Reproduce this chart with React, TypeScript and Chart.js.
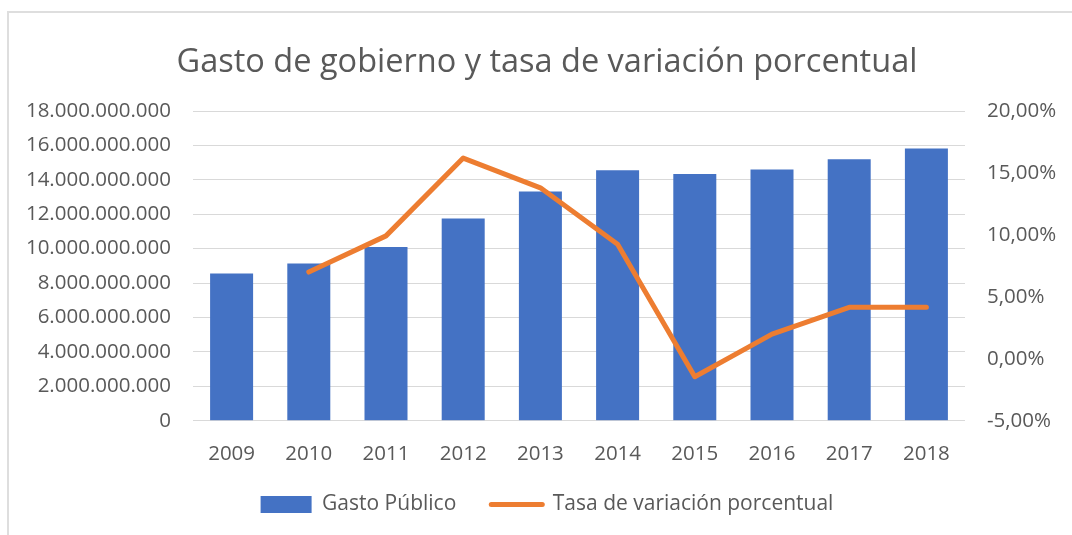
import { useEffect, useRef } from "react";
import { Chart, registerables } from "chart.js";

Chart.register(...registerables);

const years = ["2009", "2010", "2011", "2012", "2013", "2014", "2015", "2016", "2017", "2018"];
const gastoPublico = [
  8.56e9, 9.14e9, 10.09e9, 11.75e9, 13.32e9, 14.56e9, 14.34e9, 14.6e9, 15.2e9, 15.82e9,
];
const tasaVariacion = [null, 7.0, 9.92, 16.2, 13.8, 9.25, -1.45, 1.99, 4.15, 4.15];

const leftTickLabels = [
  "0",
  "2.000.000.000",
  "4.000.000.000",
  "6.000.000.000",
  "8.000.000.000",
  "10.000.000.000",
  "12.000.000.000",
  "14.000.000.000",
  "16.000.000.000",
  "18.000.000.000",
];
const rightTickLabels = ["-5,00%", "0,00%", "5,00%", "10,00%", "15,00%", "20,00%"];

const seriesNames = ["Gasto Público", "Tasa de variación porcentual"];
const titleText = "Gasto de gobierno y tasa de variación porcentual";

const BAR_COLOR = "#4472C4";
const LINE_COLOR = "#ED7D31";
const TEXT_COLOR = "#595959";
const GRID_COLOR = "#d9d9d9";
const FONT = "'Open Sans', 'Noto Sans', sans-serif";

const legendShift = {
  id: "legendShift",
  afterLayout(chart: any) {
    const l = chart.legend;
    if (l) {
      l.top -= 5.7;
      l.bottom -= 5.7;
    }
  },
};

export default function App() {
  const canvasRef = useRef<HTMLCanvasElement | null>(null);

  useEffect(() => {
    if (!canvasRef.current) return;
    Chart.defaults.font.family = FONT;
    Chart.defaults.color = TEXT_COLOR;

    const chart = new Chart(canvasRef.current, {
      type: "bar",
      data: {
        labels: years,
        datasets: [
          {
            type: "bar",
            label: seriesNames[0],
            data: gastoPublico,
            backgroundColor: BAR_COLOR,
            borderWidth: 0,
            yAxisID: "y",
            barPercentage: 0.557,
            categoryPercentage: 1,
            order: 1,
          },
          {
            type: "line",
            label: seriesNames[1],
            data: tasaVariacion as any,
            borderColor: LINE_COLOR,
            backgroundColor: LINE_COLOR,
            borderWidth: 5,
            pointRadius: 0,
            pointHoverRadius: 0,
            tension: 0,
            borderJoinStyle: "round",
            borderCapStyle: "round",
            yAxisID: "y1",
            spanGaps: false,
            order: 0,
          } as any,
        ],
      },
      plugins: [legendShift],
      options: {
        responsive: false,
        animation: false,
        layout: { padding: { left: 22, right: 0, top: 0, bottom: 4.3 } },
        plugins: {
          tooltip: { enabled: false },
          title: {
            display: true,
            text: titleText,
            color: TEXT_COLOR,
            font: { family: FONT, size: 32.5, weight: "normal" as any },
            padding: { top: 43, bottom: 29 },
          },
          legend: {
            display: true,
            position: "bottom",
            labels: {
              color: TEXT_COLOR,
              font: { family: FONT, size: 21 },
              boxWidth: 51,
              boxHeight: 17,
              usePointStyle: true,
              pointStyleWidth: 51,
              padding: 35,
              sort: (a: any, b: any) => a.datasetIndex - b.datasetIndex,
              generateLabels: (c: any) => {
                const items = (Chart.defaults.plugins.legend.labels as any).generateLabels(c);
                return items.map((it: any) =>
                  it.datasetIndex === 0
                    ? { ...it, pointStyle: "rect", lineWidth: 0, fillStyle: BAR_COLOR, strokeStyle: BAR_COLOR }
                    : {
                        ...it,
                        pointStyle: "line",
                        lineWidth: 5,
                        lineCap: "round",
                        fillStyle: LINE_COLOR,
                        strokeStyle: LINE_COLOR,
                      }
                );
              },
            },
          },
        },
        scales: {
          x: {
            grid: { display: false, drawTicks: false },
            border: { display: false },
            ticks: { color: TEXT_COLOR, font: { family: FONT, size: 20.5 }, padding: 21 },
            afterFit: (s: any) => {
              s.height = 44;
            },
          },
          y: {
            position: "left",
            min: 0,
            max: 18e9,
            grid: { color: GRID_COLOR, lineWidth: 1, drawTicks: false },
            border: { display: false },
            ticks: {
              stepSize: 2e9,
              color: TEXT_COLOR,
              font: { family: FONT, size: 20.5 },
              padding: 22,
              callback: (_v: any, i: number) => leftTickLabels[i],
            },
            afterFit: (s: any) => {
              s.width = 171;
            },
          },
          y1: {
            position: "right",
            min: -5,
            max: 20,
            grid: { display: false, drawTicks: false },
            border: { display: false },
            ticks: {
              stepSize: 5,
              color: TEXT_COLOR,
              font: { family: FONT, size: 20.5 },
              padding: 22,
              callback: (_v: any, i: number) => rightTickLabels[i],
            },
            afterFit: (s: any) => {
              s.width = 107;
            },
          },
        },
      },
    });
    return () => chart.destroy();
  }, []);

  return (
    <div
      style={{
        position: "fixed",
        left: 0,
        top: 0,
        width: 1072,
        height: 535,
        background: "#ffffff",
        overflow: "hidden",
      }}
    >
      <div
        style={{
          position: "absolute",
          left: 7,
          top: 11,
          width: 1100,
          height: 600,
          border: "2px solid #dedede",
        }}
      />
      <canvas
        ref={canvasRef}
        width={1072}
        height={535}
        style={{ position: "absolute", left: 0, top: 0 }}
      />
    </div>
  );
}
